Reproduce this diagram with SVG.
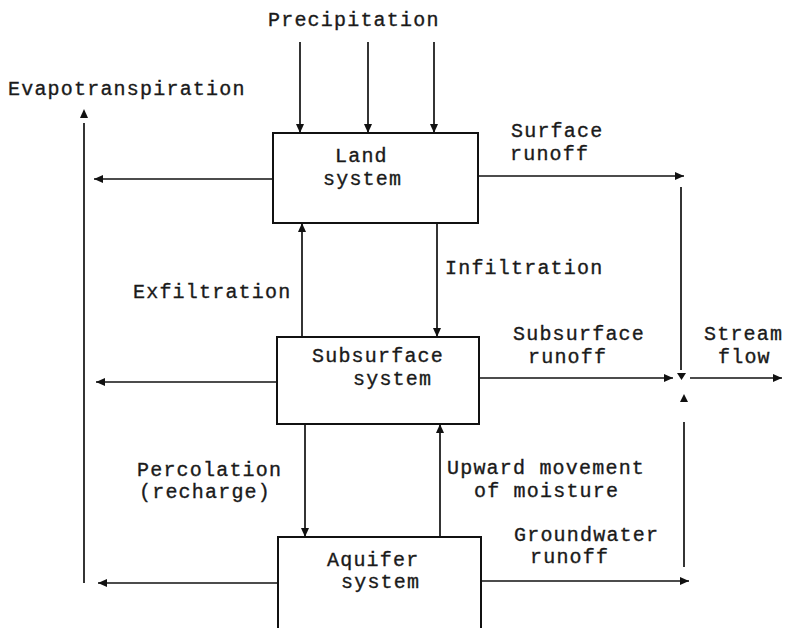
<svg xmlns="http://www.w3.org/2000/svg" width="787" height="628" viewBox="0 0 787 628">
<defs>
<marker id="ah" markerUnits="userSpaceOnUse" markerWidth="10" markerHeight="8" refX="9" refY="4" orient="auto">
<path d="M0,0 L9,4 L0,8 Z" fill="#111"/>
</marker>
<style>
.t{font-family:"Liberation Mono","Courier New",monospace;font-size:20px;letter-spacing:1.2px;fill:#1a1a1a;stroke:#1a1a1a;stroke-width:0.35}
.box{fill:#fff;stroke:#111;stroke-width:2}
.c{stroke:#111;stroke-width:1.7;fill:none}
.a{marker-end:url(#ah)}
</style>
</defs>
<rect width="787" height="628" fill="#fff"/>
<g id="connectors">
<line class="c a" x1="300" y1="42" x2="300" y2="133"/>
<line class="c a" x1="368" y1="42" x2="368" y2="133"/>
<line class="c a" x1="434" y1="42" x2="434" y2="133"/>
<line class="c" x1="84" y1="123" x2="84" y2="583"/>
<path d="M84,109 L80,118 L88,118 Z" fill="#111"/>
<line class="c a" x1="273" y1="179" x2="94" y2="179"/>
<line class="c a" x1="277" y1="382" x2="96" y2="382"/>
<line class="c a" x1="278" y1="583" x2="98" y2="583"/>
<line class="c a" x1="302" y1="337" x2="302" y2="223"/>
<line class="c a" x1="437" y1="223" x2="437" y2="337"/>
<line class="c a" x1="305" y1="424" x2="305" y2="537"/>
<line class="c a" x1="440" y1="537" x2="440" y2="424"/>
<line class="c a" x1="478" y1="176" x2="684" y2="176"/>
<line class="c" x1="681" y1="187" x2="681" y2="370"/>
<path d="M677,373 L686,373 L681.5,380 Z" fill="#111"/>
<line class="c a" x1="479" y1="378" x2="673" y2="378"/>
<line class="c a" x1="690" y1="378" x2="782" y2="378"/>
<path d="M684,394 L680,402 L688,402 Z" fill="#111"/>
<line class="c" x1="684" y1="422" x2="684" y2="567"/>
<line class="c a" x1="481" y1="581" x2="689" y2="581"/>
</g>
<g id="precipitation"><text class="t" x="268" y="26">Precipitation</text></g>
<g id="evapotranspiration"><text class="t" x="8" y="95">Evapotranspiration</text></g>
<g id="land">
<rect class="box" x="273" y="133" width="205" height="90"/>
<text class="t" x="335" y="162">Land</text>
<text class="t" x="323" y="185">system</text>
</g>
<g id="subsurface">
<rect class="box" x="277" y="337" width="202" height="87"/>
<text class="t" x="312" y="362">Subsurface</text>
<text class="t" x="353" y="385">system</text>
</g>
<g id="aquifer">
<rect class="box" x="278" y="537" width="203" height="100"/>
<text class="t" x="327" y="566">Aquifer</text>
<text class="t" x="341" y="588">system</text>
</g>
<g id="labels">
<text class="t" x="511" y="137">Surface</text>
<text class="t" x="510" y="160">runoff</text>
<text class="t" x="445" y="274">Infiltration</text>
<text class="t" x="133" y="298">Exfiltration</text>
<text class="t" x="513" y="340">Subsurface</text>
<text class="t" x="528" y="363">runoff</text>
<text class="t" x="704" y="340">Stream</text>
<text class="t" x="718" y="363">flow</text>
<text class="t" x="137" y="476">Percolation</text>
<text class="t" x="139" y="498">(recharge)</text>
<text class="t" x="447" y="474">Upward movement</text>
<text class="t" x="474" y="497">of moisture</text>
<text class="t" x="514" y="541">Groundwater</text>
<text class="t" x="530" y="563">runoff</text>
</g>
</svg>
